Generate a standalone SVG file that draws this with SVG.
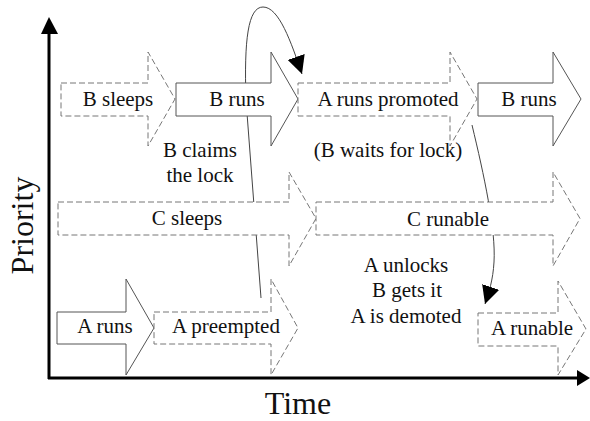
<svg xmlns="http://www.w3.org/2000/svg" width="590" height="421" viewBox="0 0 590 421">
<defs>
<marker id="ah" viewBox="0 0 10 10" refX="10" refY="5" markerWidth="18" markerHeight="18" markerUnits="userSpaceOnUse" orient="auto">
<path d="M0,0 L10,5 L0,10 Z" fill="#000"/>
</marker>
<style>
.solid{fill:#fff;stroke:#555;stroke-width:1}
.dash{fill:#fff;stroke:#777;stroke-width:1;stroke-dasharray:6 3}
.conn{fill:none;stroke:#444;stroke-width:1}
.lbl{font-size:21px;fill:#111;text-anchor:middle}
.big{font-size:32px;fill:#111;text-anchor:middle}
.axis{stroke:#000;stroke-width:3;fill:none}
</style>
</defs>
<rect width="590" height="421" fill="#fff"/>
<g id="connectors">
<path class="conn" d="M261,298 L246,100 C244,40 248,7 263,7 C279,7 291,42 302,74" marker-end="url(#ah)"/>
<path class="conn" d="M472,125 C484,175 496,230 494,262 C493,280 489,292 485,304" marker-end="url(#ah)"/>
</g>
<g id="axes">
<line class="axis" x1="49" y1="30" x2="49" y2="379"/>
<polygon points="49,17 41,34 58,34" fill="#000"/>
<line class="axis" x1="48" y1="378" x2="580" y2="378"/>
<polygon points="590,378 577,370 577,386" fill="#000"/>
</g>
<g font-family="'Liberation Serif', 'DejaVu Serif', 'Times New Roman', serif">
<g id="b-sleeps">
<polygon class="dash" points="61,83 148,83 148,52 175,99 148,146 148,116 61,116"/>
<text class="lbl" x="118" y="106">B sleeps</text>
</g>
<g id="b-runs-1">
<polygon class="solid" points="176,83 271,83 271,52 298,99 271,146 271,116 176,116"/>
<text class="lbl" x="237" y="106">B runs</text>
</g>
<g id="a-runs-promoted">
<polygon class="dash" points="298,83 450,83 450,52 477,99 450,146 450,116 298,116"/>
<text class="lbl" x="388" y="106">A runs promoted</text>
</g>
<g id="b-runs-2">
<polygon class="solid" points="478,83 553,83 553,52 581,99 553,146 553,116 478,116"/>
<text class="lbl" x="529" y="106">B runs</text>
</g>
<g id="c-sleeps">
<polygon class="dash" points="58,202 289,202 289,172 316,218.5 289,266 289,235 58,235"/>
<text class="lbl" x="187" y="225">C sleeps</text>
</g>
<g id="c-runable">
<polygon class="dash" points="316,202 553,202 553,172 580,218.5 553,266 553,235 316,235"/>
<text class="lbl" x="448" y="226">C runable</text>
</g>
<g id="a-runs">
<polygon class="solid" points="57,312 126,312 126,279 154,328 126,375 126,344 57,344"/>
<text class="lbl" x="105" y="333">A runs</text>
</g>
<g id="a-preempted">
<polygon class="dash" points="154,312 271,312 271,279 298,328 271,375 271,344 154,344"/>
<text class="lbl" x="226" y="333">A preempted</text>
</g>
<g id="a-runable">
<polygon class="dash" points="478,313 558,313 558,281 586,329 558,375 558,346 478,346"/>
<text class="lbl" x="532" y="335">A runable</text>
</g>
<g id="notes">
<text class="lbl" x="200" y="157">B claims</text>
<text class="lbl" x="200" y="182">the lock</text>
<text class="lbl" x="388" y="157">(B waits for lock)</text>
<text class="lbl" x="406" y="272">A unlocks</text>
<text class="lbl" x="407" y="297">B gets it</text>
<text class="lbl" x="406" y="323">A is demoted</text>
</g>
<g id="titles">
<text class="big" x="298" y="414">Time</text>
<text class="big" transform="translate(33,225.5) rotate(-90)" x="0" y="0">Priority</text>
</g>
</g>
</svg>
